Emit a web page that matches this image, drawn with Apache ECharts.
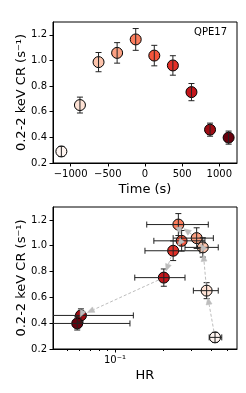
<!DOCTYPE html>
<html><head><meta charset="utf-8">
<script src="https://cdn.jsdelivr.net/npm/echarts@6/dist/echarts.min.js"></script>
<style>html,body{margin:0;padding:0;background:#fff}#c{width:246px;height:393px}</style>
</head><body><div id="c"></div>
<script>
// ---- data ----
const timeS = [-1125, -875, -625, -375, -125, 125, 375, 625, 875, 1125];
const countRate = [0.29, 0.652, 0.987, 1.059, 1.164, 1.038, 0.961, 0.753, 0.46, 0.398];
const countRateErr = [0.039, 0.062, 0.075, 0.08, 0.085, 0.08, 0.076, 0.067, 0.051, 0.051];
const hardnessRatio = [0.422, 0.374, 0.354, 0.324, 0.249, 0.261, 0.231, 0.202, 0.0613, 0.0581];
const hrErrLow = [0.034, 0.065, 0.080, 0.093, 0.091, 0.086, 0.077, 0.069, 0.03, 0.03];
const hrErrHigh = [0.043, 0.068, 0.088, 0.088, 0.134, 0.104, 0.109, 0.072, 0.069, 0.066];
const yTicks = [0.2, 0.4, 0.6, 0.8, 1.0, 1.2];
const timeTicks = [-1000, -500, 0, 500, 1000];
const hrMajorTicks = [0.1];
const hrMinorTicks = [0.05, 0.06, 0.07, 0.08, 0.09, 0.2, 0.3, 0.4, 0.5];
const panelLabel = 'QPE17';
// ---- styles ----
const pointColors = ['#fff5f0', '#fee2d5', '#fcc3ab', '#fca082', '#fb7d5d', '#f5553c', '#e32f27', '#c3161b', '#9e0d14', '#67000d'];
const FONT = 'DejaVu Sans';

const chart = echarts.init(document.getElementById('c'), null, {renderer: 'canvas'});

function errRender(hasX) {
  return function (params, api) {
    const x = api.value(0), y = api.value(1);
    const c = api.coord([x, y]);
    const lo = api.coord([x, api.value(2)]);
    const hi = api.coord([x, api.value(3)]);
    const cap = 3;
    const st = {stroke: '#222', lineWidth: 1, fill: null};
    const ch = [
      {type: 'line', shape: {x1: c[0], y1: lo[1], x2: c[0], y2: hi[1]}, style: st},
      {type: 'line', shape: {x1: c[0] - cap, y1: lo[1], x2: c[0] + cap, y2: lo[1]}, style: st},
      {type: 'line', shape: {x1: c[0] - cap, y1: hi[1], x2: c[0] + cap, y2: hi[1]}, style: st}
    ];
    if (hasX) {
      const l = api.coord([api.value(4), y]);
      const r = api.coord([api.value(5), y]);
      ch.push({type: 'line', shape: {x1: l[0], y1: c[1], x2: r[0], y2: c[1]}, style: st});
      ch.push({type: 'line', shape: {x1: l[0], y1: c[1] - cap, x2: l[0], y2: c[1] + cap}, style: st});
      ch.push({type: 'line', shape: {x1: r[0], y1: c[1] - cap, x2: r[0], y2: c[1] + cap}, style: st});
    }
    return {type: 'group', children: ch};
  };
}

function arrowRender(params, api) {
  const a = api.coord([api.value(0), api.value(1)]);
  const b = api.coord([api.value(2), api.value(3)]);
  const dx = b[0] - a[0], dy = b[1] - a[1];
  const L = Math.sqrt(dx * dx + dy * dy);
  if (L < 1e-6) return null;
  const ux = dx / L, uy = dy / L;
  const shrinkA = 6, shrinkB = 7;
  const sx = a[0] + ux * shrinkA, sy = a[1] + uy * shrinkA;
  const tx = b[0] - ux * shrinkB, ty = b[1] - uy * shrinkB;
  const hl = 7, hw = 3;
  const bx = tx - ux * hl, by = ty - uy * hl;
  const ch = [];
  const lineLen = L - shrinkA - shrinkB - hl;
  if (lineLen > 0) {
    ch.push({type: 'line', shape: {x1: sx, y1: sy, x2: bx, y2: by},
      style: {stroke: '#bdbdbd', lineWidth: 1, lineDash: [3, 2]}});
  }
  ch.push({type: 'polygon', shape: {points: [[tx, ty], [bx - uy * hw, by + ux * hw], [bx + uy * hw, by - ux * hw]]},
    style: {fill: '#bdbdbd', stroke: '#bdbdbd', lineWidth: 0.5}});
  return {type: 'group', children: ch};
}

const scatterTop = timeS.map((t, i) => ({value: [t, countRate[i]], itemStyle: {color: pointColors[i]}}));
const errTop = timeS.map((t, i) => [t, countRate[i], countRate[i] - countRateErr[i], countRate[i] + countRateErr[i]]);
const scatterBot = hardnessRatio.map((h, i) => ({value: [h, countRate[i]], itemStyle: {color: pointColors[i]}}));
const errBot = hardnessRatio.map((h, i) => [h, countRate[i], countRate[i] - countRateErr[i], countRate[i] + countRateErr[i], h - hrErrLow[i], h + hrErrHigh[i]]);
const arrows = [];
for (let i = 0; i < hardnessRatio.length - 1; i++) {
  arrows.push([hardnessRatio[i], countRate[i], hardnessRatio[i + 1], countRate[i + 1]]);
}

function yAxisFor(gi) {
  return {
    gridIndex: gi, type: 'value', min: 0.2, max: 1.3, interval: 0.2, position: 'left',
    name: '0.2-2 keV CR (s\u207B\u00B9)', nameLocation: 'middle', nameGap: 25, nameMoveOverlap: false,
    nameTextStyle: {fontFamily: FONT, fontSize: 13, color: '#000'},
    axisLine: {show: true, onZero: false, lineStyle: {color: '#000', width: 1}},
    axisTick: {show: true, length: 3.5, lineStyle: {color: '#000'}, customValues: yTicks},
    axisLabel: {fontFamily: FONT, fontSize: 10, color: '#000', margin: 6, customValues: yTicks,
      formatter: v => Number(v).toFixed(1)},
    splitLine: {show: false}
  };
}

const option = {
  animation: false,
  backgroundColor: '#fff',
  grid: [
    {left: 53, top: 22, width: 184, height: 141, show: true, borderColor: '#000', borderWidth: 1, containLabel: false},
    {left: 53, top: 207, width: 184, height: 142, show: true, borderColor: '#000', borderWidth: 1, containLabel: false}
  ],
  xAxis: [
    {gridIndex: 0, type: 'value', min: -1237.5, max: 1237.5, position: 'bottom',
      name: 'Time (s)', nameLocation: 'middle', nameGap: 20, nameMoveOverlap: false,
      nameTextStyle: {fontFamily: FONT, fontSize: 13, color: '#000'},
      axisLine: {show: true, onZero: false, lineStyle: {color: '#000', width: 1}},
      axisTick: {show: true, length: 3.5, lineStyle: {color: '#000'}, customValues: timeTicks},
      axisLabel: {fontFamily: FONT, fontSize: 10, color: '#000', margin: 6, customValues: timeTicks,
        formatter: v => String(v).replace('-', '\u2212')},
      splitLine: {show: false}},
    {gridIndex: 1, type: 'log', logBase: 10, min: 0.041, max: 0.579, position: 'bottom',
      name: 'HR', nameLocation: 'middle', nameGap: 20, nameMoveOverlap: false,
      nameTextStyle: {fontFamily: FONT, fontSize: 13, color: '#000'},
      axisLine: {show: true, onZero: false, lineStyle: {color: '#000', width: 1}},
      axisTick: {show: true, length: 3.5, lineStyle: {color: '#000'}, customValues: hrMajorTicks},
      axisLabel: {fontFamily: FONT, fontSize: 10, color: '#000', margin: 6, customValues: hrMajorTicks,
        formatter: v => '10\u207B\u00B9'},
      splitLine: {show: false}},
    {gridIndex: 1, type: 'log', logBase: 10, min: 0.041, max: 0.579, position: 'bottom', offset: 0,
      axisLine: {show: false, onZero: false},
      axisTick: {show: true, length: 2, lineStyle: {color: '#000'}, customValues: hrMinorTicks},
      axisLabel: {show: false},
      splitLine: {show: false}}
  ],
  yAxis: [yAxisFor(0), yAxisFor(1)],
  graphic: [
    {type: 'text', right: 19, top: 27, style: {text: panelLabel, fontFamily: FONT, fontSize: 10, fill: '#000'}}
  ],
  series: [
    {type: 'scatter', xAxisIndex: 0, yAxisIndex: 0, data: scatterTop, symbolSize: 11, z: 2,
      itemStyle: {borderColor: '#000', borderWidth: 1, opacity: 1}},
    {type: 'custom', xAxisIndex: 0, yAxisIndex: 0, data: errTop, renderItem: errRender(false), z: 3,
      encode: {x: 0, y: [1, 2, 3]}, clip: true},
    {type: 'scatter', xAxisIndex: 1, yAxisIndex: 1, data: scatterBot, symbolSize: 11, z: 2,
      itemStyle: {borderColor: '#000', borderWidth: 1, opacity: 1}},
    {type: 'custom', xAxisIndex: 1, yAxisIndex: 1, data: errBot, renderItem: errRender(true), z: 3,
      encode: {x: [0, 4, 5], y: [1, 2, 3]}, clip: true},
    {type: 'custom', xAxisIndex: 1, yAxisIndex: 1, data: arrows, renderItem: arrowRender, z: 4,
      encode: {x: [0, 2], y: [1, 3]}, clip: true}
  ]
};
chart.setOption(option);
</script></body></html>
